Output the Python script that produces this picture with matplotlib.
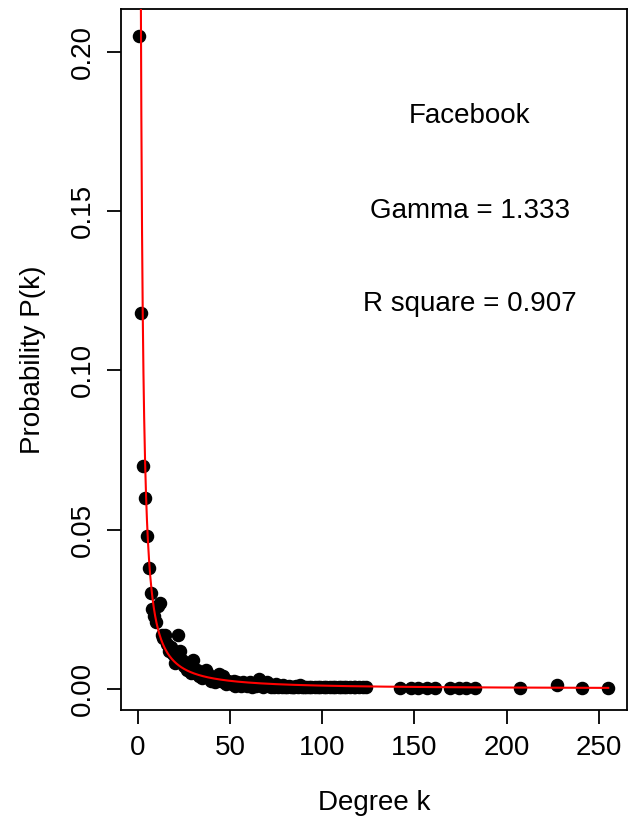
import numpy as np
import matplotlib
matplotlib.use("Agg")
import matplotlib.pyplot as plt

plt.rcParams['font.family'] = ['Liberation Sans', 'DejaVu Sans']

# degree k and probability P(k)
degree = [1, 2, 3, 4, 5, 6, 7, 8, 9, 10,
          11, 12, 13, 14, 15, 16, 17, 18, 19, 20,
          21, 22, 23, 24, 25, 26, 27, 28, 29, 30,
          31, 32, 33, 34, 35, 36, 37, 38, 39, 40,
          41, 42, 43, 44, 45, 46, 47, 48, 49, 50,
          51, 52, 53, 54, 55, 56, 57, 58, 59, 60,
          61, 62, 63, 64, 65, 66, 67, 68, 69, 70,
          71, 72, 73, 74, 75, 76, 77, 78, 79, 80,
          81, 82, 83, 84, 85, 86, 87, 88, 89, 90,
          91, 93, 94, 96, 98, 99, 101, 102, 104, 106,
          107, 109, 110, 112, 113, 115, 117, 118, 120, 122,
          124, 142, 148, 152, 157, 161, 169, 174, 178, 183,
          207, 227, 241, 255]
prob = [0.205, 0.118, 0.070, 0.060, 0.048, 0.038, 0.030, 0.025, 0.023, 0.021,
        0.026, 0.027, 0.017, 0.016, 0.017, 0.014, 0.012, 0.013, 0.011, 0.008,
        0.010, 0.017, 0.012, 0.009, 0.007, 0.008, 0.006, 0.006, 0.005, 0.009,
        0.005, 0.006, 0.004, 0.005, 0.0035, 0.004, 0.006, 0.0045, 0.003, 0.0025,
        0.0035, 0.002, 0.003, 0.0045, 0.0025, 0.004, 0.002, 0.0015, 0.0025, 0.002,
        0.0015, 0.0025, 0.001, 0.002, 0.0015, 0.001, 0.002, 0.0015, 0.001, 0.0012,
        0.002, 0.0007, 0.0015, 0.001, 0.0012, 0.003, 0.0017, 0.0007, 0.0012, 0.0022,
        0.001, 0.0005, 0.0012, 0.0007, 0.0015, 0.0005, 0.001, 0.0007, 0.0012, 0.0005,
        0.0007, 0.001, 0.0005, 0.0007, 0.0005, 0.001, 0.0005, 0.0012, 0.0007, 0.0005,
        0.0005, 0.0007, 0.0005, 0.0005, 0.0007, 0.0005, 0.0005, 0.0007, 0.0005, 0.0005,
        0.0007, 0.0005, 0.0005, 0.0007, 0.0005, 0.0005, 0.0005, 0.0007, 0.0005, 0.0005,
        0.0005, 0.0004, 0.0004, 0.0004, 0.0004, 0.0004, 0.0004, 0.0004, 0.0004, 0.0004,
        0.0004, 0.0011, 0.0004, 0.0004]

gamma = 1.333
r_square = 0.907
coef = 0.46

x_ticks = [0, 50, 100, 150, 200, 250]
y_ticks = [0.00, 0.05, 0.10, 0.15, 0.20]

fig = plt.figure(figsize=(6.37, 8.22), dpi=100)
ax = fig.add_axes([0.1895, 0.1365, 0.7948, 0.8525])

ax.scatter(degree, prob, s=76, color='black', zorder=2)

kk = np.linspace(1, max(degree), 2000)
ax.plot(kk, coef * kk ** (-gamma), color='red', lw=1.5, zorder=3)

xr = max(degree) - min(degree)
ax.set_xlim(min(degree) - 0.04 * xr, max(degree) + 0.04 * xr)
ax.set_ylim(-0.0066, 0.2135)

ax.set_xticks(x_ticks)
ax.set_xticklabels([str(t) for t in x_ticks])
ax.set_yticks(y_ticks)
ax.set_yticklabels(['%.2f' % t for t in y_ticks], rotation=90, va='center')
ax.tick_params(axis='both', direction='out', length=10, width=1.3,
               labelsize=20, pad=8)
for sp in ax.spines.values():
    sp.set_linewidth(1.3)

ax.set_xlabel('Degree k', fontsize=20, labelpad=21)
ax.set_ylabel('Probability P(k)', fontsize=20, labelpad=17)

ax.text(180, 0.18, 'Facebook', fontsize=20, ha='center', va='center')
ax.text(180, 0.15, 'Gamma = %.3f' % gamma, fontsize=20, ha='center', va='center')
ax.text(180, 0.121, 'R square = %.3f' % r_square, fontsize=20, ha='center', va='center')

fig.savefig('out.png', dpi=100)
